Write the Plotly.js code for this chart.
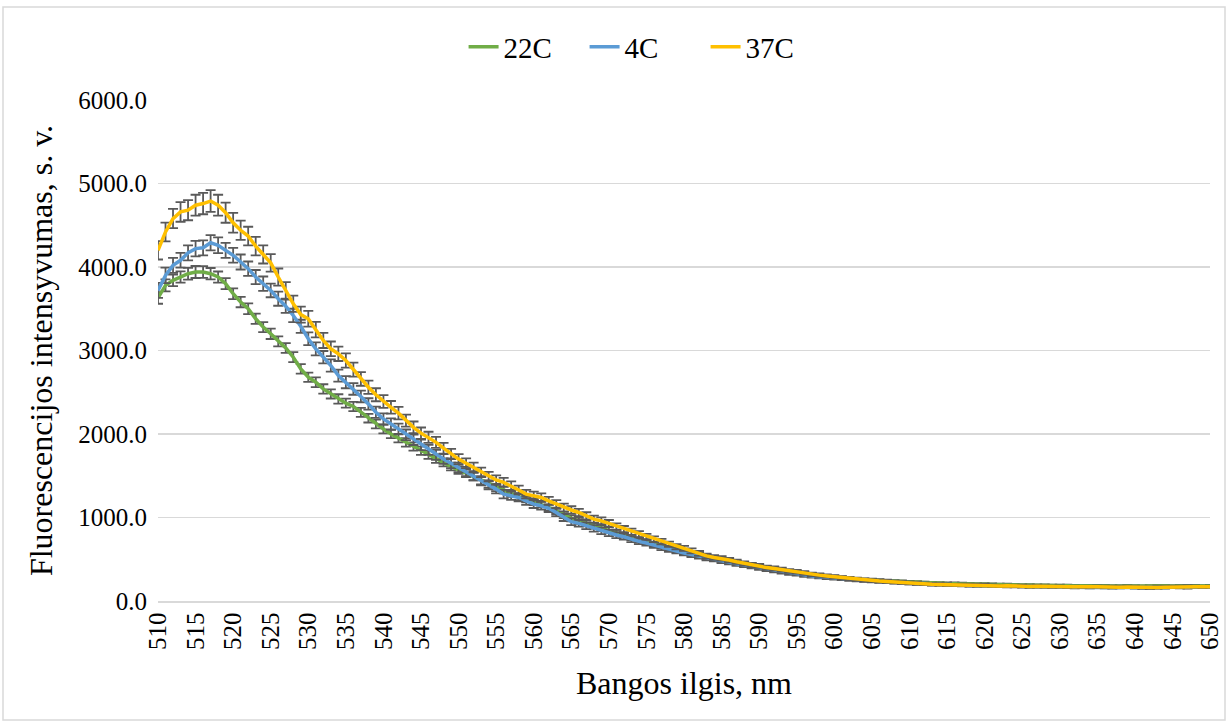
<!DOCTYPE html>
<html>
<head>
<meta charset="utf-8">
<script src="https://cdn.plot.ly/plotly-3.0.1.min.js"></script>
<style>html,body{margin:0;padding:0;background:#fff;}#chart{width:1229px;height:727px;}</style>
</head>
<body>
<div id="chart"></div>
<script>
// wavelength, nm (510..650, 1 nm step)
const wavelengths = [];
for (let w = 510; w <= 650; w++) wavelengths.push(w);

const seriesNames = ["22C", "4C", "37C"];

const values22C = [
3630,3780,3840,3880,3920,3940,3940,3920,3880,3800,
3680,3580,3500,3380,3280,3200,3110,3030,2920,2780,
2680,2620,2540,2480,2420,2370,2330,2260,2190,2120,
2060,2000,1950,1900,1850,1800,1750,1700,1660,1610,
1570,1530,1490,1440,1400,1360,1330,1290,1250,1220,
1190,1160,1120,1080,1030,990,960,930,900,870,
850,820,790,760,730,710,680,660,630,610,
590,570,550,530,510,495,480,460,445,430,
410,395,380,365,350,340,325,315,305,295,
285,278,270,262,255,250,245,240,235,230,
226,222,218,215,212,210,208,205,203,200,
200,198,195,195,192,190,190,188,186,185,
185,183,182,182,180,180,180,178,178,180,
178,176,178,180,180,178,180,182,180,178,
180];

const values4C = [
3720,3900,4020,4080,4170,4220,4230,4290,4260,4200,
4140,4060,3980,3880,3800,3720,3620,3530,3420,3290,
3140,3020,2920,2820,2700,2620,2540,2450,2360,2260,
2180,2120,2060,1990,1930,1870,1810,1750,1700,1650,
1600,1550,1500,1440,1390,1340,1280,1260,1240,1200,
1160,1140,1110,1060,1000,950,930,900,870,840,
815,790,770,740,715,695,670,640,620,600,
575,555,535,515,500,480,465,445,430,415,
395,380,365,350,335,325,310,300,290,282,
275,268,260,252,245,240,235,230,225,220,
215,210,206,202,198,195,192,190,186,184,
182,180,178,175,175,172,170,170,168,168,
165,166,164,165,163,165,164,162,163,165,
162,160,162,164,162,165,163,162,165,166,
168];

const values37C = [
4200,4420,4580,4660,4680,4740,4760,4790,4740,4650,
4530,4440,4370,4250,4150,4050,3880,3720,3560,3430,
3380,3250,3120,3020,2960,2880,2770,2660,2560,2470,
2390,2320,2250,2160,2080,2010,1960,1900,1830,1760,
1700,1650,1600,1540,1490,1450,1420,1380,1330,1280,
1260,1240,1200,1160,1120,1090,1060,1020,980,960,
930,890,860,830,800,770,740,710,680,650,
630,600,570,540,520,510,490,470,450,430,
420,400,390,375,360,350,335,320,310,300,
290,280,270,260,250,245,240,235,228,222,
215,210,205,200,198,195,192,195,190,188,
190,185,180,182,178,180,175,178,174,172,
175,170,172,168,170,172,168,170,166,168,
165,160,158,162,165,168,170,175,172,170,
172];

// standard deviations (error bars)
const err22C = [
70,72,70,68,70,72,70,68,66,66,
64,62,64,62,60,62,60,58,60,58,
56,58,56,55,56,54,55,54,52,53,
52,50,51,50,49,50,48,47,48,46,
46,45,45,44,44,43,42,42,41,40,
40,39,38,38,37,36,36,35,34,34,
33,33,32,31,31,30,30,29,29,28,
28,27,27,26,26,25,25,24,24,23,
23,22,22,21,21,20,20,20,19,19,
19,18,18,18,17,17,17,16,16,16,
16,15,15,15,15,14,14,14,14,14,
13,13,13,13,13,13,12,12,12,12,
12,12,12,12,12,12,12,12,12,12,
12,12,12,12,12,12,12,12,12,12,
12];

const err4C = [
90,92,90,88,90,92,90,92,94,90,
88,90,86,84,86,82,84,80,80,78,
76,78,74,74,72,72,70,70,68,68,
66,66,64,64,62,62,60,60,58,58,
56,56,54,54,52,52,50,50,48,48,
46,46,44,44,42,42,40,40,38,38,
37,36,35,34,33,33,32,31,30,30,
29,28,28,27,26,26,25,25,24,24,
23,23,22,22,21,21,20,20,19,19,
19,18,18,18,17,17,17,16,16,16,
16,15,15,15,15,14,14,14,14,14,
13,13,13,13,13,13,12,12,12,12,
12,12,12,12,12,12,12,12,12,12,
12,12,12,12,12,12,12,12,12,12,
12];

const err37C = [
110,112,115,118,120,125,128,130,125,120,
118,115,112,110,108,105,102,100,98,96,
94,92,90,88,86,85,84,82,80,78,
76,75,74,72,70,68,67,66,64,62,
60,59,58,57,56,55,54,53,52,51,
50,49,48,47,46,45,44,43,42,41,
40,39,38,37,36,35,34,33,32,31,
30,30,29,28,28,27,26,26,25,25,
24,24,23,23,22,22,21,21,20,20,
20,19,19,18,18,18,17,17,17,16,
16,16,15,15,15,15,14,14,14,14,
14,13,13,13,13,13,13,12,12,12,
12,12,12,12,12,12,12,12,12,12,
12,12,12,12,12,12,12,12,12,12,
12];

const xTickVals = [510,515,520,525,530,535,540,545,550,555,560,565,570,575,580,585,590,595,600,605,610,615,620,625,630,635,640,645,650];
const yTickVals = [0,1000,2000,3000,4000,5000,6000];
const yTickText = ["0.0","1000.0","2000.0","3000.0","4000.0","5000.0","6000.0"];

const colors = ["#70ad47", "#5b9bd5", "#ffc000"];
const allValues = [values22C, values4C, values37C];
const allErr = [err22C, err4C, err37C];

const traces = seriesNames.map((name, i) => ({
  type: "scatter",
  mode: "lines",
  name: name,
  x: wavelengths,
  y: allValues[i],
  line: {color: colors[i], width: 3.5},
  error_y: {type: "data", array: allErr[i], visible: true, color: "#595959", thickness: 1.8, width: 5}
}));

const F = "Times New Roman, Liberation Serif, serif";

const layout = {
  width: 1229, height: 727,
  margin: {l: 158, r: 19, t: 100, b: 126},
  paper_bgcolor: "#ffffff",
  plot_bgcolor: "#ffffff",
  font: {family: F, size: 25, color: "#000000"},
  showlegend: true,
  legend: {
    orientation: "h", x: 0.463, xanchor: "center", y: 1.106, yanchor: "middle",
    font: {family: F, size: 29, color: "#000"},
    itemwidth: 30, tracegroupgap: 0, entrywidth: 76
  },
  xaxis: {
    range: [510, 650],
    tickmode: "array", tickvals: xTickVals, ticktext: xTickVals.map(String),
    tickangle: -90,
    showgrid: false, zeroline: false,
    showline: true, linecolor: "#d9d9d9", linewidth: 1.5,
    ticks: "", ticklen: 0,
    tickfont: {family: F, size: 25, color: "#000"},
    title: {text: "Bangos ilgis, nm", font: {family: F, size: 32, color: "#000"}, standoff: 22}
  },
  yaxis: {
    range: [0, 6000],
    tickmode: "array", tickvals: yTickVals, ticktext: yTickText,
    showgrid: true, gridcolor: "#d9d9d9", gridwidth: 1.5,
    zeroline: false, showline: false, ticks: "",
    ticklabelstandoff: 10,
    tickfont: {family: F, size: 25, color: "#000"},
    title: {text: "Fluorescencijos intensyvumas, s. v.", font: {family: F, size: 32, color: "#000"}, standoff: 16}
  },
  shapes: [{
    type: "rect", xref: "paper", yref: "paper",
    x0: (3 - 158) / 1052, x1: (1225 - 158) / 1052,
    y0: (601 - 720) / 501, y1: (601 - 7) / 501,
    line: {color: "#d9d9d9", width: 1.5}, fillcolor: "rgba(0,0,0,0)", layer: "below"
  }]
};

Plotly.newPlot("chart", traces, layout, {displayModeBar: false, staticPlot: true});
</script>
</body>
</html>
